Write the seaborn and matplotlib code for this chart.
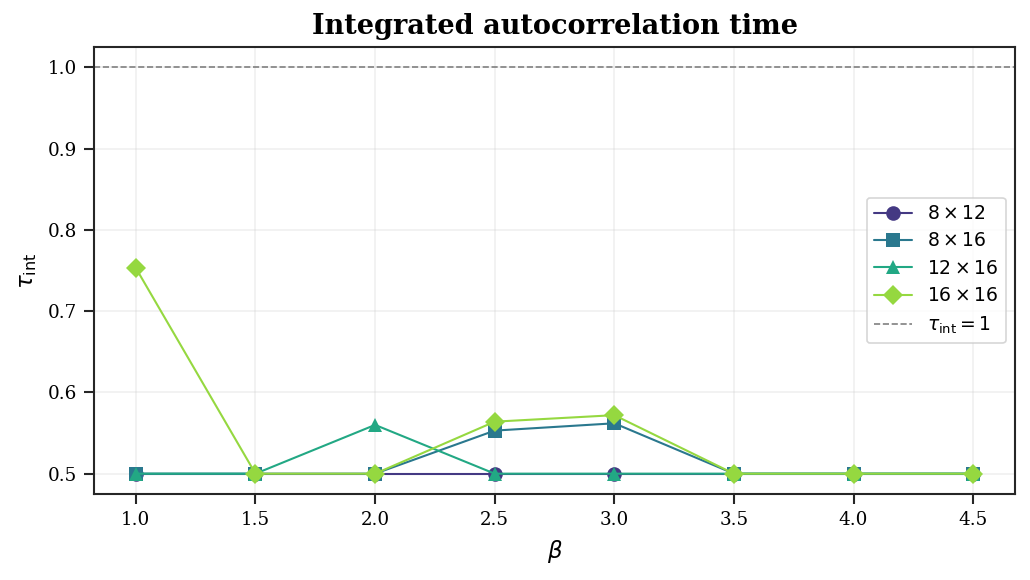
import numpy as np
import pandas as pd
import matplotlib
matplotlib.use("Agg")
import matplotlib.pyplot as plt
import seaborn as sns

beta = [1.0, 1.5, 2.0, 2.5, 3.0, 3.5, 4.0, 4.5]
lattices = [r"$8\times12$", r"$8\times16$", r"$12\times16$", r"$16\times16$"]
tau_8x12 = [0.5, 0.5, 0.5, 0.5, 0.5, 0.5, 0.5, 0.5]
tau_8x16 = [0.5, 0.5, 0.5, 0.553, 0.562, 0.5, 0.5, 0.5]
tau_12x16 = [0.5, 0.5, 0.560, 0.5, 0.5, 0.5, 0.5, 0.5]
tau_16x16 = [0.753, 0.5, 0.5, 0.564, 0.572, 0.5, 0.5, 0.5]
ref_level = 1.0

sns.set_theme(style="ticks", context="paper")
plt.rcParams["font.family"] = ["DejaVu Serif"]
plt.rcParams["mathtext.fontset"] = "dejavusans"
for k in ["text.color", "axes.labelcolor"]:
    plt.rcParams[k] = "black"
for k in ["xtick.color", "ytick.color", "axes.edgecolor"]:
    plt.rcParams[k] = "#262626"
plt.rcParams["xtick.labelcolor"] = "black"
plt.rcParams["ytick.labelcolor"] = "black"

series = [tau_8x12, tau_8x16, tau_12x16, tau_16x16]
df = pd.DataFrame({
    "beta": np.tile(beta, len(lattices)),
    "tau": np.concatenate(series),
    "lattice": np.repeat(lattices, len(beta)),
})

colors = ["#443983", "#2a788e", "#22a884", "#95d840"]

fig = plt.figure(figsize=(1030 / 150, 580 / 150), dpi=150)
ax = fig.add_axes([94 / 1030, 1 - 494 / 580, (1015 - 94) / 1030, (494 - 47) / 580])

sns.lineplot(data=df, x="beta", y="tau", hue="lattice", style="lattice",
             markers=["o", "s", "^", "D"], dashes=False, palette=colors,
             linewidth=1.0, markersize=7, markeredgewidth=0, ax=ax, zorder=3)
ax.axhline(ref_level, color="gray", linestyle="--", linewidth=0.8,
           label=r"$\tau_{\mathrm{int}}=1$", zorder=2)

ax.grid(True, alpha=0.3, zorder=0)
ax.set_axisbelow(True)
ax.set_xticks(beta)
ax.set_xlabel(r"$\beta$", fontsize=11)
ax.set_ylabel(r"$\tau_{\mathrm{int}}$", fontsize=11)
ax.set_title("Integrated autocorrelation time", fontsize=13, fontweight="bold")
ax.tick_params(labelsize=8.8)

handles, labels = ax.get_legend_handles_labels()
ax.legend(handles=handles, labels=labels, loc="center right", fontsize=9, title=None)

fig.savefig("out.png", dpi=150)
